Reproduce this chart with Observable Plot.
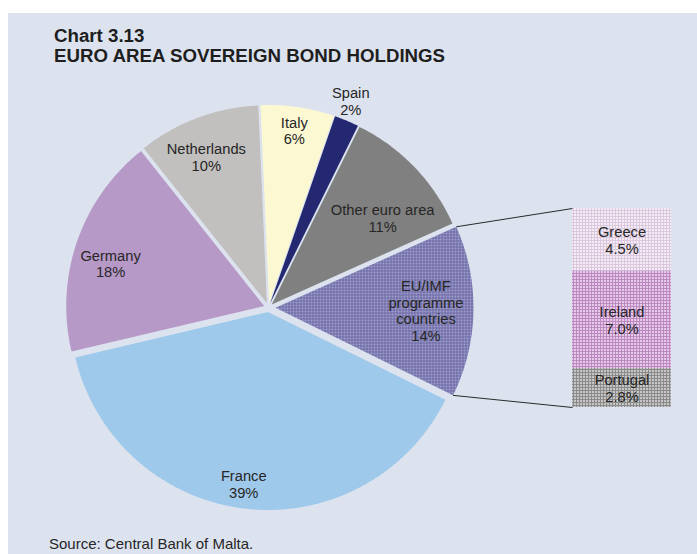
<!DOCTYPE html>
<html>
<head>
<meta charset="utf-8">
<script src="https://cdn.jsdelivr.net/npm/d3@7"></script>
<script src="https://cdn.jsdelivr.net/npm/@observablehq/plot@0.6"></script>
<style>
  body { margin: 0; background: #ffffff; }
  #page { position: relative; width: 697px; height: 554px; overflow: hidden;
          font-family: "Liberation Sans", Arial, sans-serif; }
  #panel { position: absolute; left: 8px; top: 13px; width: 689px; height: 541px; background: #dce3ef; }
  .title { position: absolute; left: 54px; font-weight: bold; font-size: 18.7px; line-height: 20px;
           color: #1e1e1e; white-space: nowrap; }
  #source { position: absolute; left: 49px; top: 535px; font-size: 15px; line-height: 18px; color: #262626; white-space: nowrap; }
  #chart { position: absolute; left: 0; top: 0; }
</style>
</head>
<body>
<div id="page">
  <div id="panel"></div>
  <div class="title" style="top:26px">Chart 3.13</div>
  <div class="title" style="top:46px">EURO AREA SOVEREIGN BOND HOLDINGS</div>
  <div id="chart"></div>
  <div id="source">Source: Central Bank of Malta.</div>
</div>
<script>
// ---- data ----
const categories = ["Italy", "Spain", "Other euro area", "EU/IMF programme countries", "France", "Germany", "Netherlands"];
const shares = [6, 2, 11, 14, 39, 18, 10];
const pieLabels = ["Italy", "Spain", "Other euro area", "EU/IMF\nprogramme\ncountries", "France", "Germany", "Netherlands"];
const subCategories = ["Greece", "Ireland", "Portugal"];
const subShares = [4.5, 7.0, 2.8];
const splitCategory = "EU/IMF programme countries";

// ---- styles / layout ----
const pieColors = ["#fcf9d2", "#232870", "#808080", "url(#patEU)", "#9fc9ea", "#b799c8", "#c1c0be"];
const subColors = ["url(#patGR)", "url(#patIE)", "url(#patPT)"];
const W = 697, H = 554;
const cx = 268, cy = 307, R = 198;
const explode = 4.5, explodeSplit = 7;
const startDeg = -2.5;
const bar = {x0: 572, x1: 671, y0: 208, y1: 407};
const labelR = [0.88, 1.10, 0.71, 0.76, 0.88, 0.805, 0.8];
const labelNudge = [0, -1, 6, 0, 1.5, -3.7, -2];

// ---- geometry from data ----
const total = d3.sum(shares);
const rad = (deg) => deg * Math.PI / 180;
let acc = startDeg;
const slices = categories.map((name, i) => {
  const a0 = acc, a1 = acc + shares[i] / total * 360;
  acc = a1;
  const mid = (a0 + a1) / 2;
  const e = name === splitCategory ? explodeSplit : explode;
  const ox = cx + e * Math.sin(rad(mid)), oy = cy - e * Math.cos(rad(mid));
  return {name, value: shares[i], label: pieLabels[i], a0, a1, mid, ox, oy, i};
});

const slicePts = [];
for (const s of slices) {
  slicePts.push({name: s.name, x: s.ox, y: s.oy});
  const n = Math.max(2, Math.ceil((s.a1 - s.a0) / 0.5));
  for (let k = 0; k <= n; k++) {
    const a = rad(s.a0 + (s.a1 - s.a0) * k / n);
    slicePts.push({name: s.name, x: s.ox + R * Math.sin(a), y: s.oy - R * Math.cos(a)});
  }
  slicePts.push({name: s.name, x: s.ox, y: s.oy});
}

const labelPts = slices.map(s => {
  const a = rad(s.mid + labelNudge[s.i]);
  const r = R * labelR[s.i];
  return {text: `${s.label}\n${s.value}%`, x: s.ox + r * Math.sin(a), y: s.oy - r * Math.cos(a)};
});

const subTotal = d3.sum(subShares);
let cum = 0;
const subRows = subCategories.map((name, i) => {
  const v0 = cum, v1 = cum + subShares[i];
  cum = v1;
  const y1 = bar.y0 + v0 / subTotal * (bar.y1 - bar.y0);
  const y2 = bar.y0 + v1 / subTotal * (bar.y1 - bar.y0);
  return {name, value: subShares[i], x1: bar.x0, x2: bar.x1, y1, y2,
          xm: (bar.x0 + bar.x1) / 2, ym: (y1 + y2) / 2,
          text: `${name}\n${subShares[i].toFixed(1)}%`};
});

const sp = slices.find(s => s.name === splitCategory);
const connectors = [
  {x1: sp.ox + R * Math.sin(rad(sp.a0)), y1: sp.oy - R * Math.cos(rad(sp.a0)), x2: bar.x0, y2: bar.y0},
  {x1: sp.ox + R * Math.sin(rad(sp.a1)), y1: sp.oy - R * Math.cos(rad(sp.a1)), x2: bar.x0, y2: bar.y1}
];

const font = "Liberation Sans, Arial, sans-serif";
const chart = Plot.plot({
  width: W, height: H, margin: 0,
  x: {domain: [0, W], range: [0, W], axis: null},
  y: {domain: [0, H], range: [0, H], axis: null},
  color: {domain: [...categories, ...subCategories], range: [...pieColors, ...subColors]},
  style: {background: "transparent", overflow: "visible"},
  marks: [
    Plot.line(slicePts, {x: "x", y: "y", z: "name", fill: "name", stroke: null, curve: "linear"}),
    Plot.rect(subRows, {x1: "x1", x2: "x2", y1: "y1", y2: "y2", fill: "name"}),
    Plot.link(connectors, {x1: "x1", y1: "y1", x2: "x2", y2: "y2", stroke: "#2a2a2a", strokeWidth: 1}),
    Plot.text(labelPts, {x: "x", y: "y", text: "text", fontSize: 14.7, lineHeight: 1.14, fill: "#262626", fontFamily: font}),
    Plot.text(subRows, {x: "xm", y: "ym", text: "text", fontSize: 14.7, lineHeight: 1.14, fill: "#262626", fontFamily: font})
  ]
});

// patterns
const defs = d3.select(chart).insert("defs", ":first-child");
function pattern(id, bg, fg) {
  const p = defs.append("pattern").attr("id", id).attr("patternUnits", "userSpaceOnUse")
    .attr("width", 3).attr("height", 3);
  p.append("rect").attr("width", 3).attr("height", 3).attr("fill", bg);
  p.append("rect").attr("width", 3).attr("height", 1).attr("fill", fg);
  p.append("rect").attr("width", 1).attr("height", 3).attr("fill", fg);
}
pattern("patEU", "#a09ecd", "#6c69a3");
pattern("patGR", "#f4ecf5", "#dbc8df");
pattern("patIE", "#e4cae6", "#bd88c2");
pattern("patPT", "#c6c6c6", "#8a8a8a");

document.getElementById("chart").appendChild(chart);
</script>
</body>
</html>
